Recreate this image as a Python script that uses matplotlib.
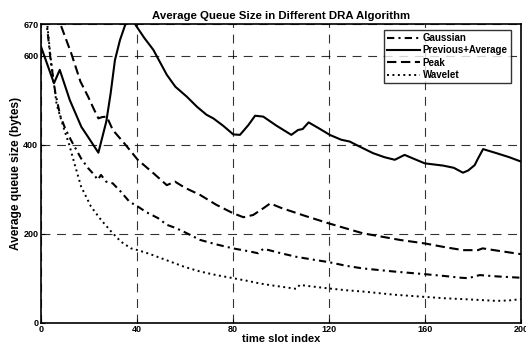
import matplotlib
matplotlib.use("Agg")
import matplotlib.pyplot as plt

# Gaussian (dash-dot)
gauss_x = [0, 2.4, 4, 6, 8, 10, 12.5, 16.7, 19.5, 22.2, 23.6, 25, 27.1, 29.9, 33.3, 36.8, 40.3,
           44, 48.75, 52.4, 56, 60, 66.3, 73, 80, 87, 90.5, 92.6, 95, 100, 106.4, 113, 120,
           127, 134, 147, 160, 168, 175, 178, 182.8, 190, 200]
gauss_y = [780, 670, 590, 515, 465, 437, 410, 369, 348, 332, 321, 332, 317, 313, 294, 272, 261,
           248, 235, 220, 213, 203, 186, 176, 167, 160, 156, 166, 163, 156, 148, 142, 136,
           128, 122, 115, 109, 105, 101, 100, 107, 104, 101]

# Previous+Average (solid)
prev_x = [0, 5.4, 7.8, 12, 16.8, 20, 23.9, 27.2, 29, 30.8, 32.9, 35, 36.5, 38, 39.5, 43, 46.8,
          52.4, 56, 60.7, 65, 69, 71.8, 76, 80.1, 82.9, 86.4, 89.2, 92.6, 98, 104.3, 107.1, 109,
          111.5, 116, 120.3, 125.1, 128.6, 133, 138.3, 143, 147.4, 151.5, 155, 159.9, 167.5,
          172, 175.8, 178, 180.7, 182, 184.2, 189.7, 195, 200]
prev_y = [620, 538, 568, 500, 440, 414, 382, 452, 515, 590, 635, 668, 682, 684, 668, 640, 613,
          557, 530, 508, 485, 467, 459, 442, 423, 422, 444, 465, 463, 443, 422, 433, 435,
          450, 436, 422, 411, 407, 395, 381, 372, 366, 377, 369, 358, 353,
          348, 337, 342, 354, 368, 390, 381, 372, 362]

# Peak (dashed)
peak_x = [0, 4, 8.2, 12.6, 16.4, 19.6, 22, 23.9, 25.5, 27.4, 29.9, 34.7, 40.3, 46.8, 52.4, 55.8,
          60, 66.3, 73, 80, 84.3, 88.4, 92.6, 95.5, 100, 110, 120, 134, 149.5, 160, 168,
          175.8, 182, 184, 190, 200]
peak_y = [900, 760, 669, 605, 542, 508, 480, 459, 462, 463, 433, 403, 366, 336, 309, 317,
          303, 287, 265, 246, 237, 242, 257, 268, 258, 240, 223, 201, 186, 178, 170,
          163, 163, 167, 162, 154]

# Wavelet (dotted)
wave_x = [0, 2.6, 4, 6.5, 9.7, 11.8, 13.9, 16.7, 20.8, 25, 29.2, 33.3, 37.5, 40.3, 45, 50, 55,
          60, 66.3, 73, 80.1, 86, 91.3, 96, 100, 106.4, 107.8, 112, 119.9, 127, 134.2, 147,
          159.9, 168, 175.8, 183, 189.7, 195, 200]
wave_y = [760, 670, 595, 490, 433, 399, 358, 306, 261, 231, 205, 182, 167, 163, 155, 145, 135,
          125, 115, 107, 100, 94, 88, 84, 81, 76, 85, 82, 77, 73, 70, 63,
          58, 55, 53, 51, 49, 50, 53]

xticks = [0, 40, 80, 120, 160, 200]
yticks = [0, 200, 400, 600, 670]

plt.rcParams['font.family'] = ['Liberation Sans', 'DejaVu Sans']
plt.rcParams['font.weight'] = 'bold'

fig = plt.figure(figsize=(5.26, 3.47), dpi=100)
ax = fig.add_axes([0.078, 0.070, 0.9125, 0.8595])

lw = 1.5
ax.plot(gauss_x, gauss_y, color='black', lw=lw, linestyle=(0, (3.5, 2, 1, 2)), label='Gaussian')
ax.plot(prev_x, prev_y, color='black', lw=lw, linestyle='-', label='Previous+Average')
ax.plot(peak_x, peak_y, color='black', lw=lw, linestyle=(0, (4.5, 2.2)), label='Peak')
ax.plot(wave_x, wave_y, color='black', lw=1.4, linestyle=(0, (1, 1.8)), label='Wavelet')

ax.set_xlim(0, 200)
ax.set_ylim(0, 670)
ax.set_xticks(xticks)
ax.set_yticks(yticks)
ax.tick_params(direction='in', length=3, labelsize=6.5, pad=2)
for lab in ax.get_xticklabels() + ax.get_yticklabels():
    lab.set_fontweight('bold')

ax.grid(True, color='black', linestyle=(0, (8, 6)), linewidth=0.8, alpha=0.8)
for s in ax.spines.values():
    s.set_linewidth(1.2)

ax.set_title('Average Queue Size in Different DRA Algorithm', fontsize=8.2, fontweight='bold', pad=4)
ax.set_xlabel('time slot index', fontsize=8, fontweight='bold', labelpad=0)
ax.set_ylabel('Average queue size (bytes)', fontsize=8.6, fontweight='bold', labelpad=1)

leg = ax.legend(loc='upper right', fontsize=7, frameon=True, fancybox=False,
                edgecolor='black', handlelength=3.4, borderpad=0.3, labelspacing=0.25,
                handletextpad=0.3, borderaxespad=0,
                bbox_to_anchor=(510.7 / 526, 1 - 30 / 347), bbox_transform=fig.transFigure)
leg.get_frame().set_linewidth(1.0)
for t in leg.get_texts():
    t.set_fontweight('bold')

fig.savefig('out.png', dpi=100)
